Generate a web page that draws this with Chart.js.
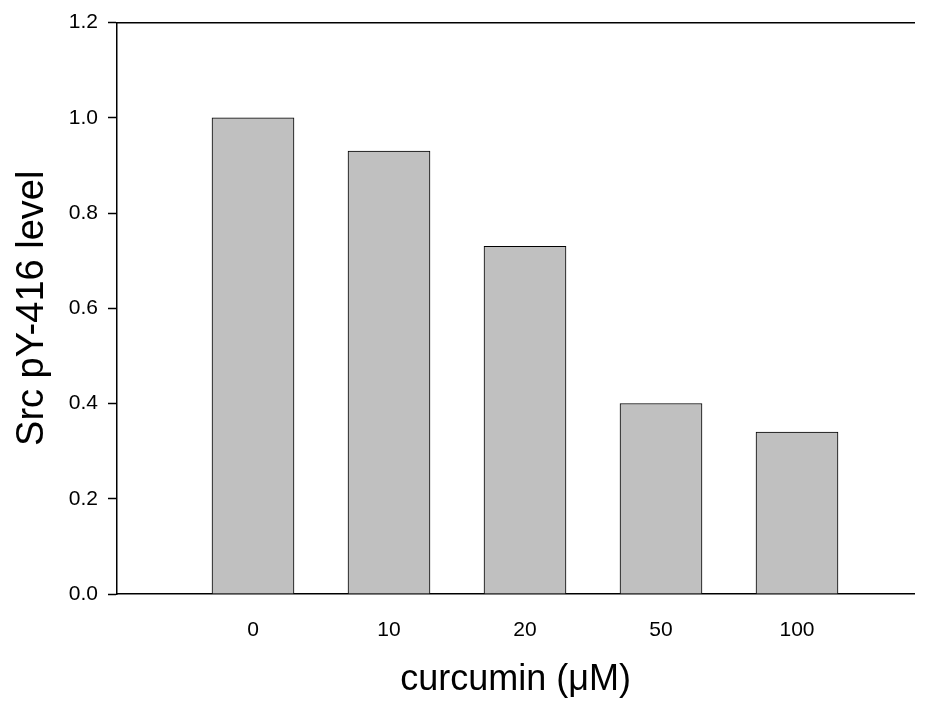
<!DOCTYPE html>
<html>
<head>
<meta charset="utf-8">
<script src="https://cdn.jsdelivr.net/npm/chart.js@4"></script>
<style>
  html, body { margin: 0; padding: 0; background: #fff; }
  #wrap { width: 927px; height: 702px; }
</style>
</head>
<body>
<div id="wrap"><canvas id="barChart"></canvas></div>
<script>
const doseLabels = ['0', '10', '20', '50', '100'];
const dosePositions = [1, 2, 3, 4, 5];
const srcLevels = [1.0, 0.93, 0.73, 0.40, 0.34];
const yTicks = [0, 0.2, 0.4, 0.6, 0.8, 1.0, 1.2];

const fontFamily = '"Liberation Sans", Arial, sans-serif';

const dataBarChart = {
    datasets: [{
        label: 'Src pY-416 level',
        data: dosePositions.map((p, i) => ({ x: p, y: srcLevels[i] })),
        backgroundColor: '#c0c0c0',
        borderColor: '#000000',
        borderWidth: 1,
        borderSkipped: 'bottom',
        barThickness: 82,
    }]
};

const configBarChart = {
    type: 'bar',
    data: dataBarChart,
    options: {
        responsive: true,
        maintainAspectRatio: false,
        animation: false,
        layout: {
            padding: { top: 22, right: 13, left: 0, bottom: 0 }
        },
        plugins: {
            legend: { display: false },
            tooltip: { enabled: false },
        },
        scales: {
            x: {
                type: 'linear',
                offset: false,
                min: 0,
                max: 797 / 136,
                afterBuildTicks: (scale) => {
                    scale.ticks = dosePositions.map(v => ({ value: v }));
                },
                afterFit: (scale) => { scale.height = 108; },
                ticks: {
                    color: '#000',
                    padding: 24,
                    maxRotation: 0,
                    font: { family: fontFamily, size: 21 },
                    callback: (value) => doseLabels[dosePositions.indexOf(value)],
                },
                grid: { display: false, drawTicks: false, offset: false },
                border: { display: true, color: '#000', width: 1.5 },
                title: {
                    display: true,
                    text: 'curcumin (μM)',
                    color: '#000',
                    font: { family: fontFamily, size: 36 },
                    padding: { top: 17, bottom: 0 },
                },
            },
            xTop: {
                type: 'linear',
                position: 'top',
                min: 0,
                max: 1,
                afterFit: (scale) => { scale.height = 0; },
                ticks: { display: false },
                grid: { display: false, drawTicks: false },
                border: { display: true, color: '#000', width: 1.5 },
            },
            y: {
                min: 0,
                max: 1.2,
                afterBuildTicks: (scale) => {
                    scale.ticks = yTicks.map(v => ({ value: v }));
                },
                afterFit: (scale) => { scale.width = 117; },
                ticks: {
                    color: '#000',
                    padding: 10,
                    font: { family: fontFamily, size: 21 },
                    callback: (value) => value.toFixed(1),
                },
                grid: {
                    drawOnChartArea: false,
                    drawTicks: true,
                    tickLength: 9,
                    tickColor: '#000',
                    tickWidth: 1.5,
                },
                border: { display: true, color: '#000', width: 1.5 },
                title: {
                    display: true,
                    text: 'Src pY-416 level',
                    color: '#000',
                    font: { family: fontFamily, size: 38 },
                    padding: { top: 10, bottom: 0 },
                },
            }
        }
    }
};

const barChart = new Chart(
    document.getElementById('barChart'),
    configBarChart
);
</script>
</body>
</html>
